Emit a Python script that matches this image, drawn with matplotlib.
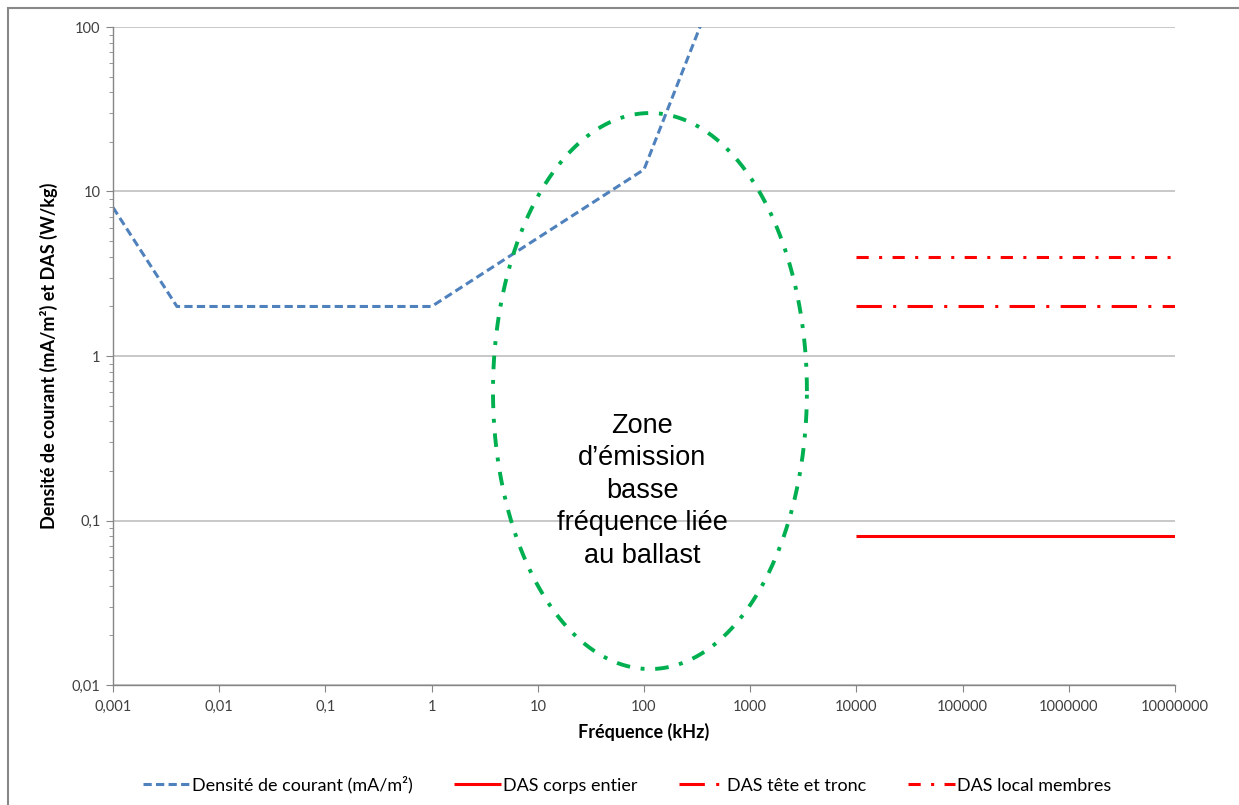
import matplotlib.pyplot as plt
import matplotlib.patches as mpatches
from matplotlib.ticker import FixedLocator, NullFormatter, NullLocator
import numpy as np

plt.rcParams['font.family'] = ['Lato', 'DejaVu Sans']

# data (x in kHz)
freq_courant = [0.001, 0.004, 1, 100, 1000]
val_courant = [8, 2, 2, 13.6, 600]

freq_das = [10000, 10000000]
das_corps = [0.08, 0.08]
das_tete = [2, 2]
das_membres = [4, 4]

x_ticks = [0.001, 0.01, 0.1, 1, 10, 100, 1000, 10000, 100000, 1000000, 10000000]
x_labels = ["0,001", "0,01", "0,1", "1", "10", "100", "1000", "10000",
            "100000", "1000000", "10000000"]
y_ticks = [0.01, 0.1, 1, 10, 100]
y_labels = ["0,01", "0,1", "1", "10", "100"]

# ellipse in log space (centre and half axes in decades)
ell_cx, ell_cy = 2.056, -0.213
ell_rx, ell_ry = 1.478, 1.69

fig = plt.figure(figsize=(12.39, 8.05), dpi=100)
ax = fig.add_axes([113/1239, 1-685/805, (1175-113)/1239, (685-27)/805])

ax.set_xscale('log')
ax.set_yscale('log')
ax.set_xlim(0.001, 10000000)
ax.set_ylim(0.01, 100)

ax.plot(freq_courant, val_courant, color='#4F81BD', lw=2.2, dashes=(2.7, 1.4),
        label='Densité de courant (mA/m²)')
ax.plot(freq_das, das_corps, color='#FF0000', lw=2.2, solid_capstyle='butt',
        label='DAS corps entier')
ax.plot(freq_das, das_tete, color='#FF0000', lw=2.2, dashes=(8.3, 3.7, 1, 3.7),
        label='DAS tête et tronc')
ax.plot(freq_das, das_membres, color='#FF0000', lw=2.2, dashes=(4, 3.4, 1, 3.4),
        label='DAS local membres')

# green ellipse marking the ballast zone
t = np.linspace(0, 2*np.pi, 400)
ex = 10**(ell_cx + ell_rx*np.cos(t))
ey = 10**(ell_cy + ell_ry*np.sin(t))
ax.plot(ex, ey, color='#00B050', lw=2.8, dashes=(3.5, 2.75, 1, 2.75))

ax.text(10**1.985, 10**-0.82, "Zone\nd\u2019émission\nbasse\nfréquence liée\nau ballast",
        ha='center', va='center', fontsize=19.5, family=['Liberation Sans'],
        linespacing=1.33)

# axes styling
ax.xaxis.set_major_locator(FixedLocator(x_ticks))
ax.set_xticklabels(x_labels)
ax.xaxis.set_minor_locator(NullLocator())
ax.yaxis.set_major_locator(FixedLocator(y_ticks))
ax.set_yticklabels(y_labels)
minors = [m*10.0**e for e in range(-2, 2) for m in range(2, 10)]
ax.yaxis.set_minor_locator(FixedLocator(minors))
ax.yaxis.set_minor_formatter(NullFormatter())

ax.tick_params(axis='both', which='major', direction='out', length=5,
               color='#868686', labelcolor='#404040', labelsize=10.5)
ax.tick_params(axis='y', which='minor', direction='out', length=3, color='#868686')
ax.tick_params(axis='x', pad=6)
ax.tick_params(axis='y', pad=4)

for s in ['top', 'right']:
    ax.spines[s].set_visible(False)
for s in ['left', 'bottom']:
    ax.spines[s].set_color('#868686')
    ax.spines[s].set_linewidth(1)

ax.yaxis.grid(True, which='major', color='#BFBFBF', lw=1.2)
ax.set_axisbelow(True)

ax.set_xlabel('Fréquence (kHz)', fontsize=13, fontweight='bold', labelpad=6)
ax.set_ylabel('Densité de courant (mA/m²) et DAS (W/kg)', fontsize=13,
              fontweight='bold', labelpad=10)

leg = fig.legend(loc='center', bbox_to_anchor=(627/1239, 1-785/805), ncol=4,
                 frameon=False, fontsize=13, handlelength=2.6, columnspacing=2.3,
                 handletextpad=0.1)

# outer chart frame
fig.patches.append(mpatches.Rectangle((8/1239, -0.05), 1.1, 1.05-8/805,
                                      transform=fig.transFigure, fill=False,
                                      edgecolor='#888888', lw=1.5))

plt.savefig("out.png", dpi=100)
